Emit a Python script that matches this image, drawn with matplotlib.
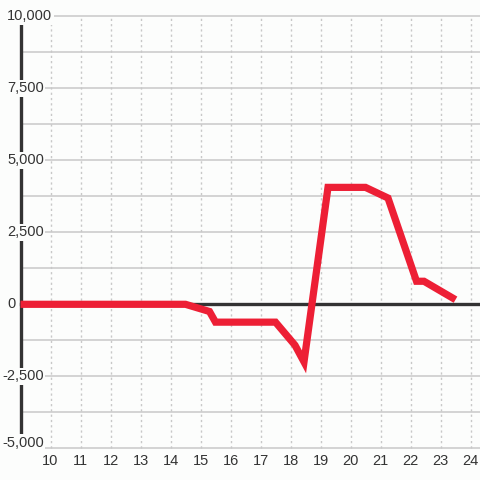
import matplotlib
matplotlib.use("Agg")
import matplotlib.pyplot as plt
import matplotlib.transforms as mtransforms

# ── Data ─────────────────────────────────────────────────────────────────────
x_vals = [9, 14.5, 15.3, 15.5, 17.5, 18.15, 18.45, 19.25, 20.5, 21.25, 22.2, 22.45, 23.5]
y_vals = [0, 0, -250, -620, -620, -1420, -2000, 4060, 4060, 3690, 800, 800, 160]

x_ticks = list(range(10, 25))
y_ticks = [10000, 7500, 5000, 2500, 0, -2500, -5000]
y_grid = [10000 - 1250 * i for i in range(13)]

BG = "#fcfdfc"
DARK = "#333333"
GRID = "#c8c8c8"
RED = "#ed1f35"

plt.rcParams["font.family"] = ["Liberation Sans", "DejaVu Sans"]

fig = plt.figure(figsize=(4.8, 4.8), dpi=100, facecolor=BG)
ax = fig.add_axes([0, 0, 1, 1], facecolor=BG)

# pixel mapping: x=9 at 20.5px, 30 px per unit; y=0 at 304.3px from top
ax.set_xlim(9 - 20.5 / 30, 9 + (480 - 20.5) / 30)
ax.set_ylim(-(480 - 304.3) / 0.0288, 304.3 / 0.0288)
ax.axis("off")

xmax = ax.get_xlim()[1]

# grid
ax.hlines(y_grid, 9, xmax, color=GRID, linewidth=1.1, zorder=1)
ax.vlines(x_ticks, -5000, 10000, color=GRID, linewidth=1.0,
          linestyles=(0, (1.6, 2.2)), zorder=1)

# axis lines
ax.plot([9, 9], [-5000, 10000], color=DARK, linewidth=2.4, zorder=2,
        solid_capstyle="butt")
ax.plot([9, xmax], [0, 0], color=DARK, linewidth=2.4, zorder=2)

# series
ax.plot(x_vals, y_vals, color=RED, linewidth=5.2, zorder=3,
        solid_joinstyle="miter", solid_capstyle="butt")

# y labels with background boxes covering the axis line
trans = mtransforms.blended_transform_factory(fig.transFigure, ax.transData)
for v in y_ticks:
    label = f"{v:,}"
    x0 = 2 / 480 if v < 0 else 7 / 480
    yy = v + 200 if v == -5000 else v
    ax.text(x0, yy, label, transform=trans, ha="left", va="center",
            fontsize=10.5, color=DARK, zorder=5,
            bbox=dict(facecolor=BG, edgecolor="none", pad=1.0))

# x labels
for t in x_ticks:
    ax.text(t, -5440, str(t), ha="center", va="center", fontsize=10.5,
            color=DARK, zorder=5)

fig.savefig("out.png", dpi=100, facecolor=BG)
